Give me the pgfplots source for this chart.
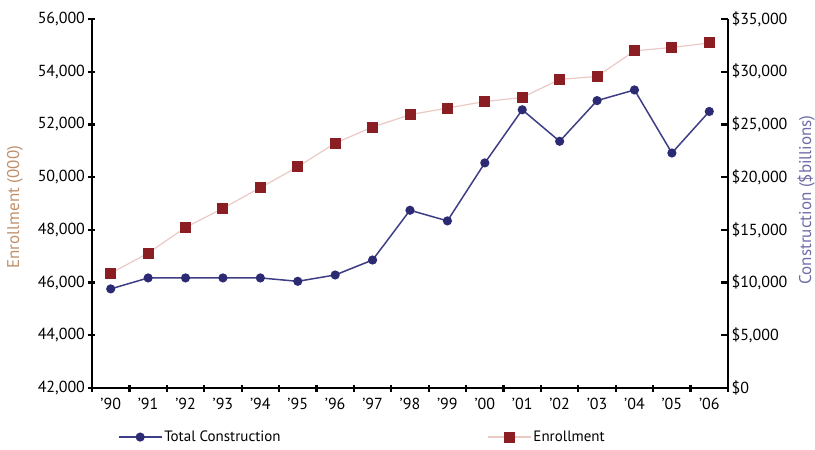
\documentclass[border=0pt]{standalone}
\usepackage{pgfplots}
\pgfplotsset{compat=1.18}
\usepackage{fontspec}
\setmainfont{PT Sans}
\definecolor{enrmark}{HTML}{8B1E22}
\definecolor{enrline}{HTML}{EBC9C4}
\definecolor{conmark}{HTML}{2B2A72}
\definecolor{conline}{HTML}{3E3E86}
\definecolor{enrlab}{HTML}{C0906C}
\definecolor{conlab}{HTML}{6E6CA8}
\begin{document}
\begin{tikzpicture}
\pgfplotsset{
  common/.style={
    scale only axis, width=636pt, height=369pt,
    xmin=-0.5, xmax=16.5,
    ymin=42000, ymax=56000,
    axis line style={line width=2.6pt, black},
    tick style={black, line width=2.2pt},
    major tick length=7pt, minor tick length=7pt,
    tick align=inside,
    scaled y ticks=false,
    tick label style={font=\fontsize{16}{19}\selectfont},
    clip=false,
    /pgf/number format/assume math mode=true,
    /pgf/number format/1000 sep={,},
  }
}
\begin{axis}[common, name=main,
  axis x line=bottom, axis y line=left,
  xtick={0,...,16},
  xticklabels={'90,'91,'92,'93,'94,'95,'96,'97,'98,'99,'00,'01,'02,'03,'04,'05,'06},
  major x tick style={draw=none},
  minor xtick={-0.5,0.5,...,16.5},
  minor x tick style={black, line width=2.2pt},
  ytick={42000,44000,...,56000},
  x axis line style={-}, y axis line style={-},
  xticklabel style={yshift=-3pt},
  ylabel={Enrollment (000)},
  ylabel style={at={(axis description cs:-0.121,0.49)}, anchor=center, color=enrlab, font=\fontsize{17}{19}\selectfont},
]
\addplot[color=enrline, line width=1.2pt, mark=square*, mark size=5pt,
  mark options={fill=enrmark, draw=enrmark, line width=0pt}]
  coordinates {(0,46350) (1,47120) (2,48090) (3,48820) (4,49600) (5,50390)
  (6,51290) (7,51900) (8,52370) (9,52620) (10,52870) (11,53020) (12,53710)
  (13,53820) (14,54790) (15,54920) (16,55090)};
\end{axis}
\begin{axis}[common,
  ymin=0, ymax=35000,
  axis x line=none, axis y line*=right,
  y axis line style={-},
  ytick={0,5000,...,35000},
  yticklabel={\$\pgfmathprintnumber{\tick}},
  ylabel={Construction (\$billions)},
  ylabel style={at={(axis description cs:1.123,0.51)}, anchor=center, rotate=0, color=conlab, font=\fontsize{17}{19}\selectfont},
  legend style={at={(axis description cs:0.036,-0.133)}, anchor=west, draw=none, fill=none,
    font=\fontsize{15}{18}\selectfont, legend columns=2,
    /tikz/every even column/.append style={column sep=205pt}},
  legend image code/.code={\draw[mark repeat=2, mark phase=2, #1] plot coordinates {(0cm,0cm) (0.75cm,0cm) (1.5cm,0cm)};},
]
\addplot[color=conline, line width=1.5pt, mark=*, mark size=3.8pt,
  mark options={fill=conmark, draw=conmark}]
  coordinates {(0,9400) (1,10440) (2,10440) (3,10440) (4,10440) (5,10120)
  (6,10720) (7,12140) (8,16860) (9,15850) (10,21350) (11,26390) (12,23400)
  (13,27260) (14,28270) (15,22290) (16,26230)};
\addlegendentry{Total Construction}
\addlegendimage{color=enrline, line width=1.2pt, mark=square*, mark size=5pt,
  mark options={fill=enrmark, draw=enrmark, line width=0pt}}
\addlegendentry{Enrollment}
\end{axis}
\pgfresetboundingbox
\path[use as bounding box] ([shift={(-92pt,-61pt)}]main.south west) rectangle ([shift={(87pt,19pt)}]main.north east);
\end{tikzpicture}
\end{document}
